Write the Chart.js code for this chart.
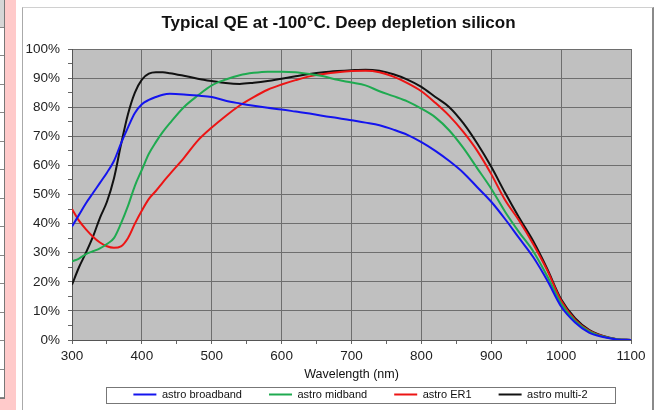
<!DOCTYPE html>
<html lang="en">
<head>
<meta charset="UTF-8">
<title>Typical QE at -100°C. Deep depletion silicon</title>
<script src="https://cdn.jsdelivr.net/npm/chart.js"></script>
<style>
    body { margin: 0; background: #fff; }
    #wrap { position: relative; width: 658px; height: 410px; overflow: hidden; }
    .cells {
        position: absolute; left: 0; top: 0; width: 4px; height: 398px;
        border-right: 1px solid #777; border-bottom: 1px solid #777;
        background:
            linear-gradient(#d6d6d6, #d6d6d6) 0 0 / 100% 27px no-repeat,
            repeating-linear-gradient(#888 0 1px, #fff 1px 28.5px) 0 27px;
    }
    .pink { position: absolute; left: 5px; top: 0; width: 11px; height: 410px; background: #ffcaca; }
    .pink2 { position: absolute; left: 0; top: 399px; width: 16px; height: 11px; background: #ffcaca; }
    .frame {
        position: absolute; left: 22px; top: 7px; width: 629px; height: 410px; background: #fff;
        border-left: 1px solid #aaa; border-top: 1px solid #d0d0d0; border-right: 2px solid #8a8a8a;
    }
    canvas { position: absolute; left: 0; top: 0; }
</style>
</head>
<body>
<div id="wrap">
    <div class="cells"></div>
    <div class="pink"></div>
    <div class="pink2"></div>
    <div class="frame"></div>
    <canvas id="qeChart" width="658" height="410"></canvas>
</div>

<script>
    // wavelength in nm, QE in %
    var wavelengths = [300, 310, 320, 330, 340, 350, 360, 370, 380, 390, 400, 410, 420, 430, 440,
        460, 480, 500, 520, 540, 560, 580, 600, 620, 640, 660, 680, 700, 720, 740, 760, 780, 800,
        820, 840, 860, 880, 900, 920, 940, 960, 980, 1000, 1020, 1040, 1060, 1080, 1100];

    var broadband = [39, 43, 47, 50.5, 54, 57.5, 61.5, 67.5, 73, 78, 81, 82.5, 83.5, 84.3, 84.6,
        84.4, 84, 83.5, 82.2, 81.3, 80.5, 79.8, 79.2, 78.5, 77.8, 77, 76.3, 75.5, 74.7, 73.8, 72.3, 70.5, 68,
        65, 61.5, 57.5, 52.5, 47.5, 41.5, 35, 28.5, 20.5, 11.5, 6, 2.5, 1, 0.2, 0];

    var midband = [27, 28, 29.5, 30.5, 31.5, 33, 35, 40, 46, 53, 58.5, 64, 68, 71.5, 74.5,
        80, 84, 87.5, 89.5, 91, 91.8, 92.2, 92.2, 92, 91.4, 90.6, 89.4, 88.5, 87.5, 85.5, 83.8, 82, 79.5,
        76.5, 72, 66, 59, 52, 44, 37, 30.5, 22, 12.5, 6.5, 3, 1.2, 0.3, 0];

    var er1 = [45, 41, 38, 35.5, 33.5, 32.2, 31.7, 32.2, 35, 40, 44.5, 48.5, 51.2, 54.2, 57,
        62.5, 68.5, 73, 77, 80.6, 83.5, 86, 87.8, 89.3, 90.6, 91.4, 92, 92.4, 92.5, 92, 90.5, 88.3, 85.5,
        81.5, 77, 71.5, 65, 57, 48, 41, 33, 24, 13.5, 7, 3.2, 1.3, 0.3, 0];

    var multi2 = [19, 25, 30, 35.5, 42, 47.5, 55.5, 67, 77.5, 85, 89.5, 91.5, 92, 92, 91.7,
        90.8, 89.8, 89, 88.3, 88, 88.4, 89, 89.8, 90.6, 91.4, 92, 92.4, 92.7, 92.9, 92.5, 91.3, 89.5, 87,
        83.5, 80, 74.5, 67.5, 59.5, 50.5, 42, 34, 24.5, 14, 7.5, 3.5, 1.4, 0.3, 0];

    var seriesNames = ['astro broadband', 'astro midband', 'astro ER1', 'astro multi-2'];
    var seriesValues = [broadband, midband, er1, multi2];
    var seriesColors = ['#1414ee', '#1faa50', '#ec1414', '#111111'];

    Chart.defaults.font.family = "'Liberation Sans', Arial, sans-serif";

    var plotBg = {
        id: 'plotBg',
        beforeDraw: function (chart) {
            var a = chart.chartArea, ctx = chart.ctx;
            ctx.save();
            ctx.fillStyle = '#c0c0c0';
            ctx.fillRect(a.left, a.top, a.right - a.left, a.bottom - a.top);
            ctx.restore();
        }
    };

    var legendFrame = {
        id: 'legendFrame',
        afterLayout: function (chart) {
            // nudge title and legend to the right, as in the original
            chart.titleBlock.left += 23;
            chart.titleBlock.right += 23;
            chart.legend.left += 9;
            chart.legend.right += 9;
        },
        afterDraw: function (chart) {
            var boxes = chart.legend.legendHitBoxes;
            if (!boxes || !boxes.length) return;
            var last = boxes[boxes.length - 1];
            var x0 = Math.round(boxes[0].left - 27);
            var x1 = Math.round(last.left + last.width + 27);
            var ctx = chart.ctx;
            ctx.save();
            ctx.strokeStyle = '#777';
            ctx.lineWidth = 1;
            ctx.strokeRect(x0 + 0.5, 387.5, x1 - x0, 16);
            ctx.restore();
        }
    };

    var datasets = seriesNames.map(function (name, i) {
        return {
            label: name,
            data: wavelengths.map(function (w, j) { return { x: w, y: seriesValues[i][j] }; }),
            borderColor: seriesColors[i],
            backgroundColor: seriesColors[i],
            borderWidth: 2,
            pointRadius: 0,
            fill: false,
            cubicInterpolationMode: 'monotone'
        };
    });

    new Chart(document.getElementById('qeChart'), {
        type: 'line',
        data: { datasets: datasets },
        plugins: [plotBg, legendFrame],
        options: {
            responsive: false,
            animation: false,
            layout: { padding: { left: 0, right: 27, top: 0, bottom: 0 } },
            plugins: {
                title: {
                    display: true,
                    text: 'Typical QE at -100°C. Deep depletion silicon',
                    color: '#111',
                    font: { size: 17, weight: 'bold' },
                    padding: { top: 13, bottom: 15.6 }
                },
                legend: {
                    position: 'bottom',
                    fullSize: false,
                    labels: {
                        boxWidth: 23,
                        boxHeight: 2,
                        padding: 27,
                        color: '#111',
                        font: { size: 11 },
                        generateLabels: function (chart) {
                            return Chart.defaults.plugins.legend.labels.generateLabels(chart).map(function (l) {
                                l.lineWidth = 0;
                                return l;
                            });
                        }
                    }
                },
                tooltip: { enabled: false }
            },
            scales: {
                x: {
                    type: 'linear',
                    min: 300,
                    max: 1100,
                    afterFit: function (s) { s.height = 22; },
                    ticks: {
                        stepSize: 50,
                        autoSkip: false,
                        maxRotation: 0,
                        padding: 4,
                        color: '#222',
                        font: { size: 13.5 },
                        callback: function (v) { return v % 100 === 0 ? v : ''; }
                    },
                    grid: {
                        color: function (c) { return c.tick && c.tick.value % 100 === 0 ? '#6e6e6e' : 'rgba(0,0,0,0)'; },
                        tickColor: '#666',
                        tickLength: 4
                    },
                    border: { color: '#555' },
                    title: {
                        display: true,
                        text: 'Wavelength (nm)',
                        color: '#111',
                        font: { size: 12.5 },
                        padding: { top: 0, bottom: -20 }
                    }
                },
                y: {
                    min: 0,
                    max: 100,
                    afterFit: function (s) { s.width = 72; },
                    ticks: {
                        stepSize: 5,
                        autoSkip: false,
                        padding: 8,
                        color: '#222',
                        font: { size: 13.5 },
                        callback: function (v) { return v % 10 === 0 ? v + '%' : ''; }
                    },
                    grid: {
                        color: function (c) { return c.tick && c.tick.value % 10 === 0 ? '#6e6e6e' : 'rgba(0,0,0,0)'; },
                        tickColor: '#666',
                        tickLength: 4
                    },
                    border: { color: '#555' }
                }
            }
        }
    });
</script>
</body>
</html>
